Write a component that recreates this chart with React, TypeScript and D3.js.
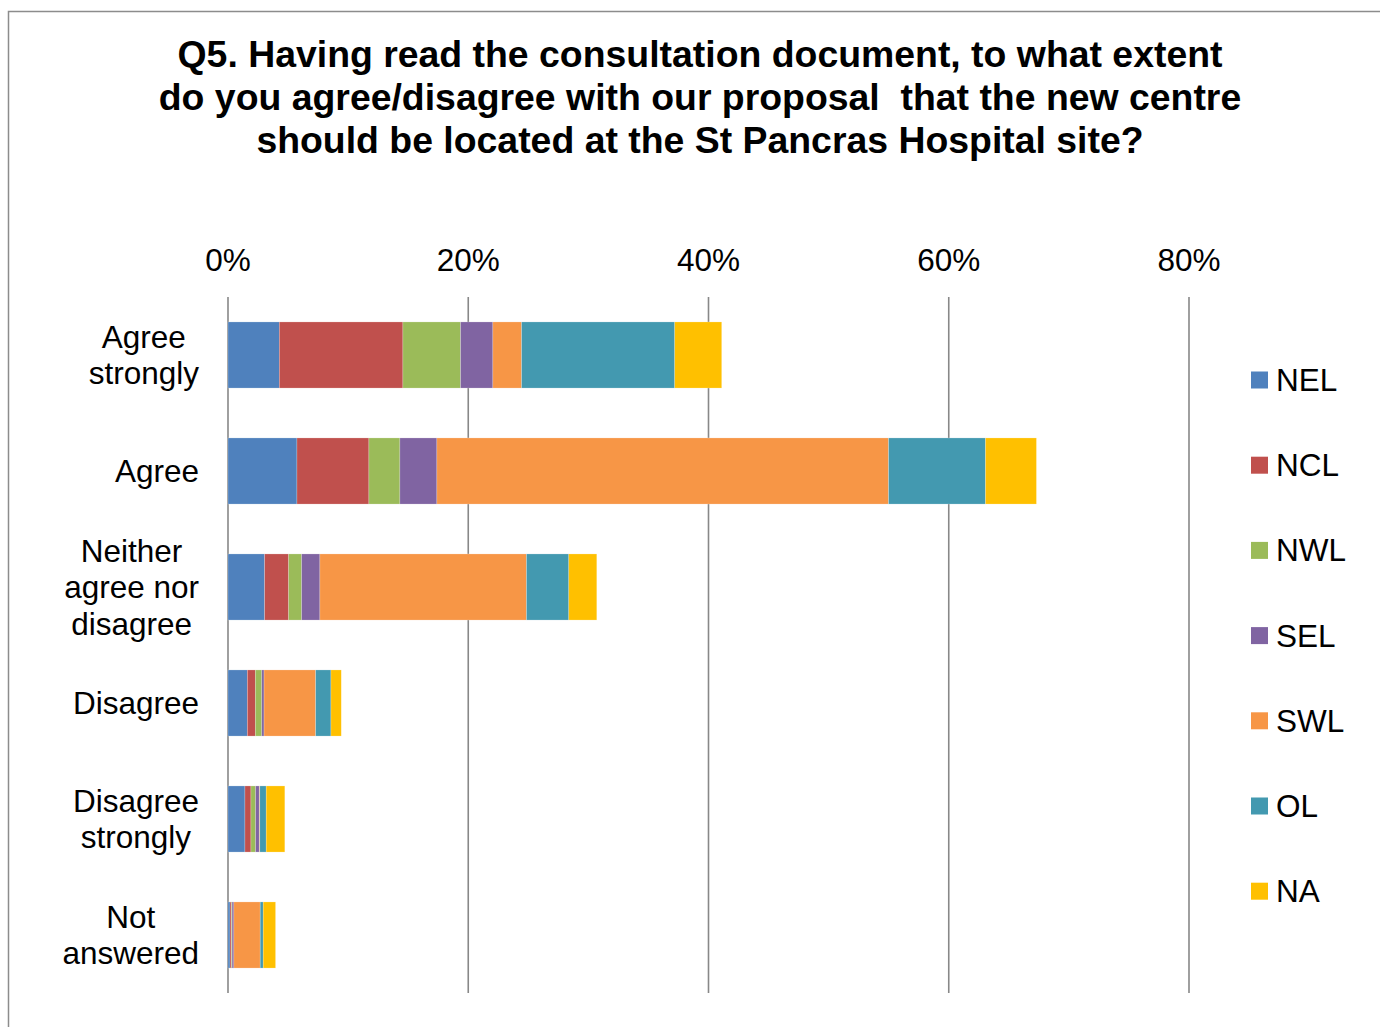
import React from "react";
import * as d3 from "d3";

const categories = [
  ["Agree", "strongly"],
  ["Agree"],
  ["Neither", "agree nor", "disagree"],
  ["Disagree"],
  ["Disagree", "strongly"],
  ["Not", "answered"],
];
const categoryKeys = ["Agree strongly", "Agree", "Neither", "Disagree", "Disagree strongly", "Not answered"];
const seriesNames = ["NEL", "NCL", "NWL", "SEL", "SWL", "OL", "NA"];
const seriesColors = ["#4F81BD", "#C0504D", "#9BBB59", "#8064A2", "#F79646", "#4399B0", "#FFC000"];

const NEL = [4.27, 5.74, 3.05, 1.61, 1.41, 0.17];
const NCL = [10.29, 5.99, 2.0, 0.67, 0.5, 0.12];
const NWL = [4.8, 2.58, 1.08, 0.53, 0.39, 0.05];
const SEL = [2.69, 3.08, 1.52, 0.19, 0.3, 0.15];
const SWL = [2.39, 37.6, 17.2, 4.3, 0.05, 2.19];
const OL = [12.75, 8.07, 3.52, 1.27, 0.53, 0.25];
const NA = [3.91, 4.24, 2.33, 0.86, 1.55, 1.03];

const tickValues = [0, 20, 40, 60, 80];
const titleLines = [
  "Q5. Having read the consultation document, to what extent",
  "do you agree/disagree with our proposal  that the new centre",
  "should be located at the St Pancras Hospital site?",
];

const W = 1380;
const H = 1027;
const FONT = "'Liberation Sans', Arial, sans-serif";
const LABEL_SIZE = 31.5;

function measure(text: string, size: number): number {
  if (typeof document === "undefined") return text.length * size * 0.5;
  const c = document.createElement("canvas").getContext("2d");
  if (!c) return text.length * size * 0.5;
  c.font = `${size}px ${FONT}`;
  return c.measureText(text).width;
}

export default function App() {
  const seriesValues = [NEL, NCL, NWL, SEL, SWL, OL, NA];
  const rows = categoryKeys.map((k, i) => {
    const r: any = { key: k };
    seriesNames.forEach((s, j) => (r[s] = seriesValues[j][i]));
    return r;
  });
  const stack = d3.stack<any>().keys(seriesNames)(rows);

  const x = d3.scaleLinear().domain([0, 80]).range([228, 1189]);
  const y = d3.scaleBand<string>().domain(categoryKeys).range([297, 993]).paddingInner(0.43).paddingOuter(0.215);

  const plotTop = 297;
  const plotBottom = 993;

  return (
    <svg
      width={W}
      height={H}
      style={{ position: "fixed", left: 0, top: 0, background: "#fff" }}
      fontFamily={FONT}
    >
      <rect x={0} y={0} width={W} height={H} fill="#fff" />
      <rect x={8.5} y={11.5} width={W + 20} height={H + 20} fill="none" stroke="#8c8c8c" strokeWidth={1.5} />

      {titleLines.map((t, i) => (
        <text
          key={i}
          x={700}
          y={67 + i * 43}
          textAnchor="middle"
          fontSize={37.4}
          fontWeight="bold"
          fill="#000"
          style={{ whiteSpace: "pre" }}
        >
          {t}
        </text>
      ))}

      {tickValues.map((v) => (
        <g key={v}>
          <line x1={x(v)} x2={x(v)} y1={plotTop} y2={plotBottom} stroke="#888" strokeWidth={1.6} />
          <text x={x(v)} y={271} textAnchor="middle" fontSize={LABEL_SIZE} fill="#000">
            {v + "%"}
          </text>
        </g>
      ))}

      {stack.map((layer, j) => (
        <g key={layer.key} fill={seriesColors[j]}>
          {layer.map((d, i) => (
            <rect
              key={i}
              x={x(d[0])}
              y={y(categoryKeys[i])}
              width={Math.max(0, x(d[1]) - x(d[0]))}
              height={y.bandwidth()}
              stroke="#fff"
              strokeOpacity={0.35}
              strokeWidth={0.6}
            />
          ))}
        </g>
      ))}

      {categories.map((lines, i) => {
        const cy = (y(categoryKeys[i]) as number) + y.bandwidth() / 2;
        const lh = 36.5;
        const start = cy - ((lines.length - 1) * lh) / 2;
        const maxW = Math.max(...lines.map((l) => measure(l, LABEL_SIZE)));
        const cx = 199 - maxW / 2;
        return (
          <text key={i} textAnchor="middle" fontSize={LABEL_SIZE} fill="#000">
            {lines.map((l, k) => (
              <tspan key={k} x={cx} y={start + k * lh + 11}>
                {l}
              </tspan>
            ))}
          </text>
        );
      })}

      {seriesNames.map((s, j) => {
        const cy = 380 + j * 85.2;
        return (
          <g key={s}>
            <rect x={1251} y={cy - 8.5} width={17} height={17} fill={seriesColors[j]} />
            <text x={1276} y={cy + 11} fontSize={LABEL_SIZE} fill="#000">
              {s}
            </text>
          </g>
        );
      })}
    </svg>
  );
}
